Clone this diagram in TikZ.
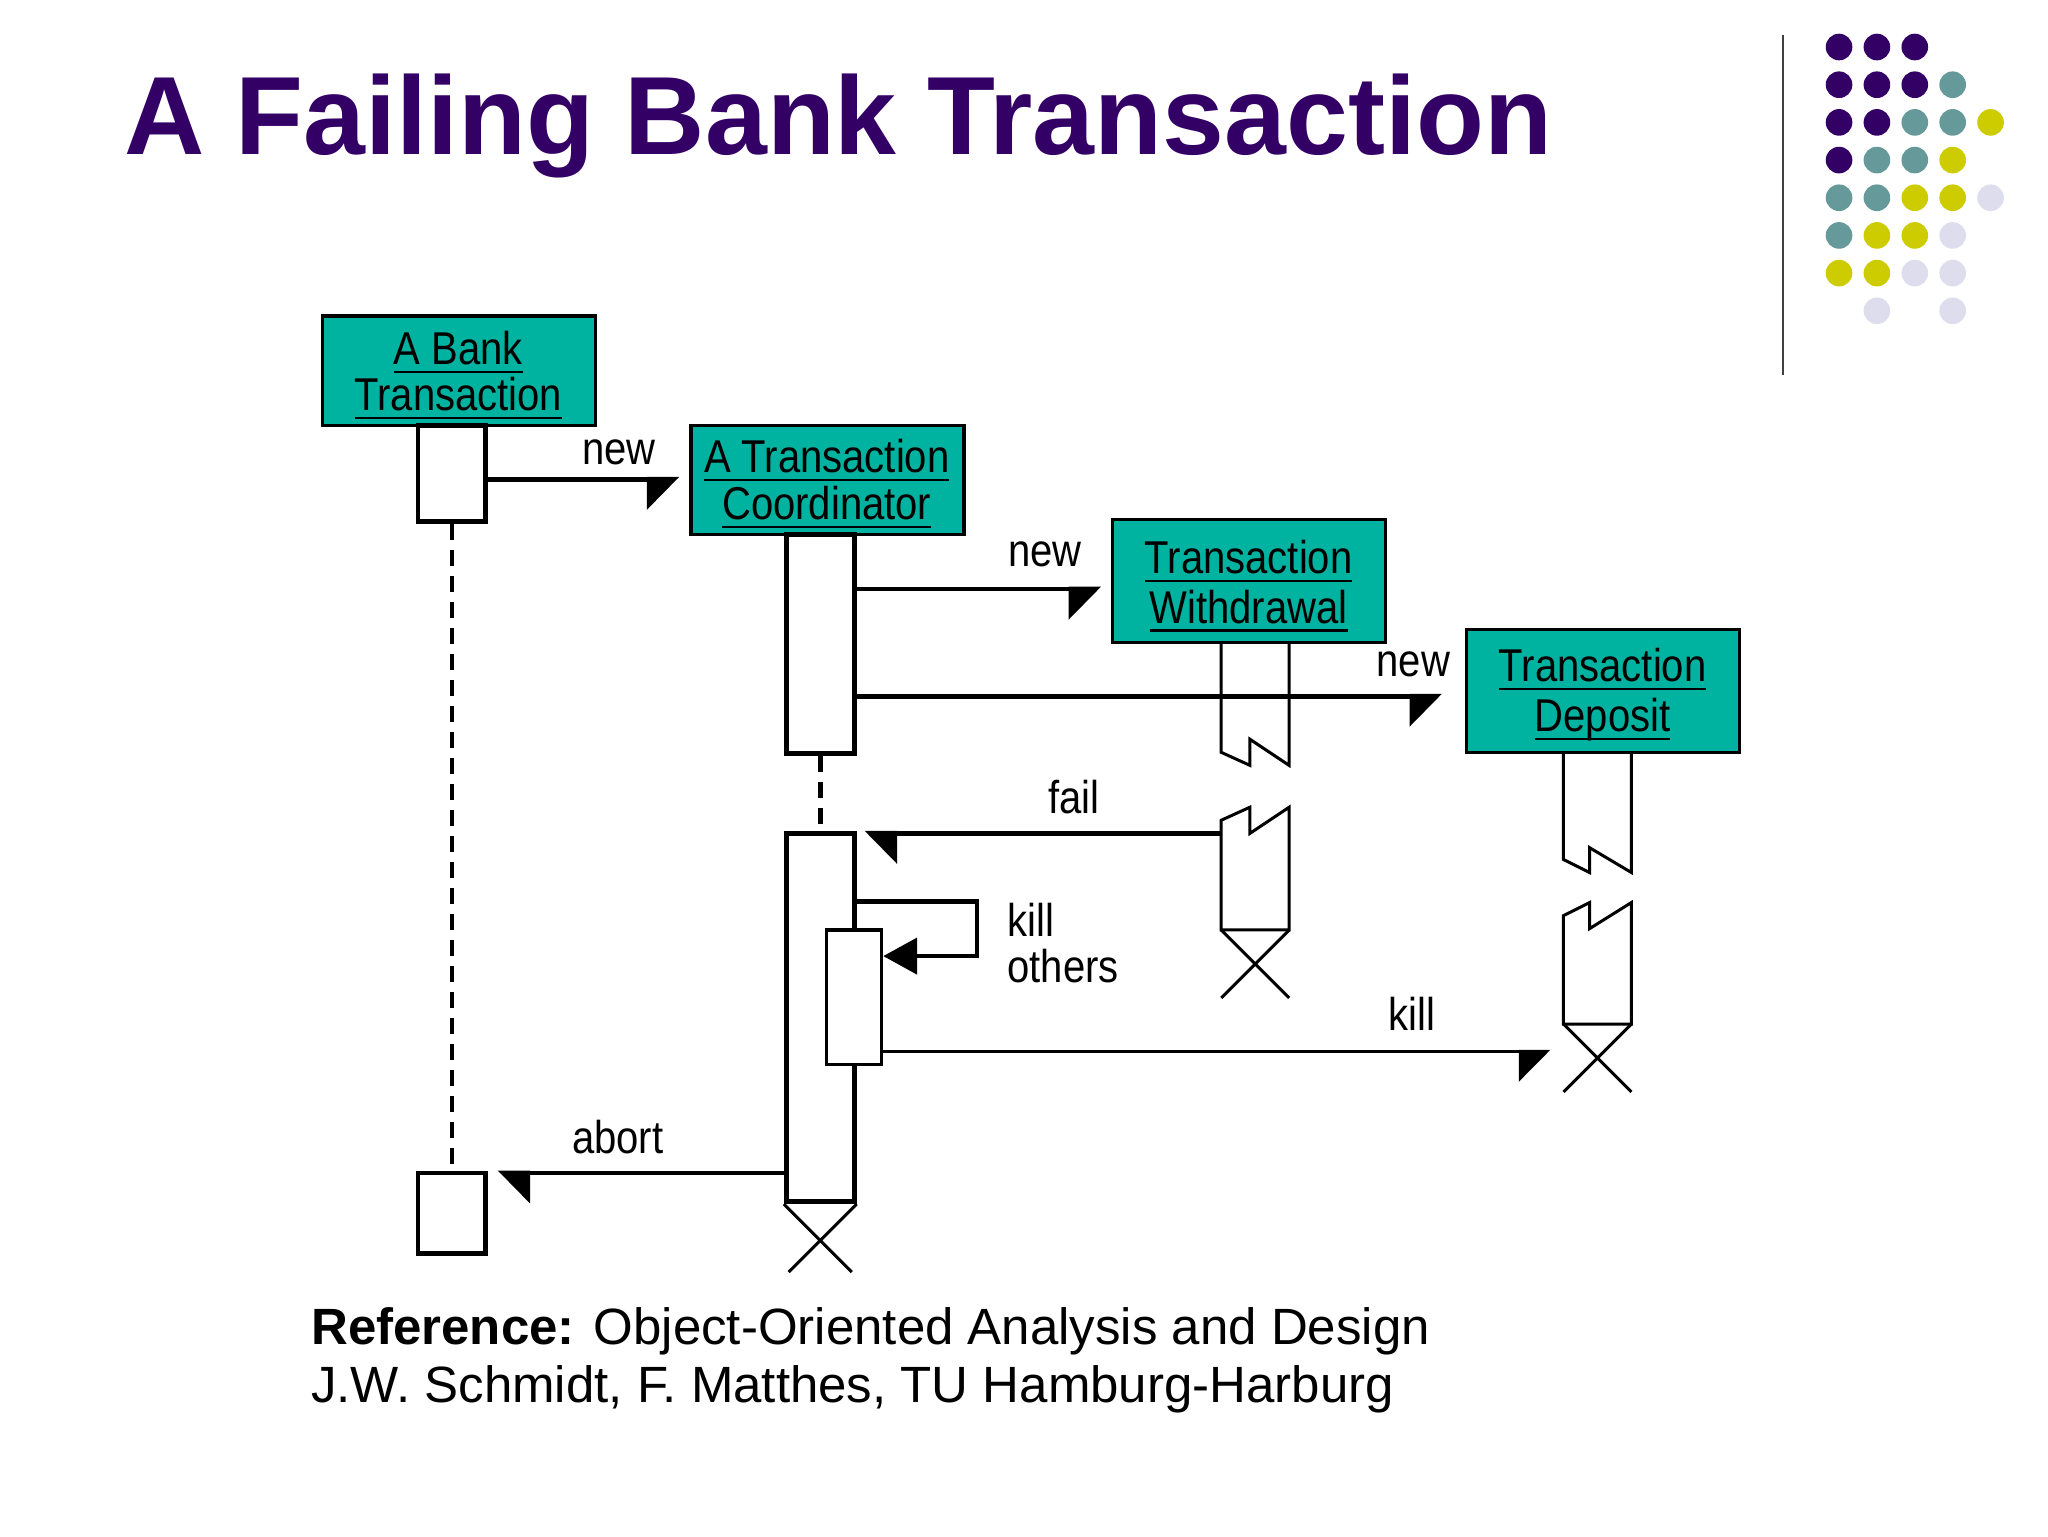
\documentclass[tikz,border=0pt]{standalone}
\usepackage{fontspec}
\setmainfont{Liberation Sans}
\newfontfamily\diagfont[FakeStretch=0.87]{Liberation Sans}
\usetikzlibrary{arrows.meta,fit}
\definecolor{titlepurple}{RGB}{51,0,102}
\definecolor{dotP}{RGB}{51,0,102}
\definecolor{dotT}{RGB}{102,153,153}
\definecolor{dotY}{RGB}{204,204,0}
\definecolor{dotL}{RGB}{221,221,238}
\definecolor{boxteal}{RGB}{0,178,160}
\newcommand\myul[1]{\setbox0\hbox{#1}\rlap{\rule[-4.3pt]{\wd0}{1.1pt}}\box0}
\begin{document}
\begin{tikzpicture}[x=0.65306pt,y=-0.65306pt,
  objbox/.style={draw=black, line width=1.6pt, fill=boxteal, inner sep=0pt},
  objtext/.style={inner sep=0pt, align=center,
    font=\diagfont\fontsize{23}{23.5}\selectfont},
  act/.style={draw=black, line width=2.4pt, fill=white, inner sep=0pt},
  nested/.style={draw=black, line width=1.6pt, fill=white, inner sep=0pt},
  msg/.style={line width=2.4pt, line join=miter},
  killmsg/.style={line width=1.6pt},
  halfR/.style={-{Triangle[harpoon,swap,length=15pt,width=30pt]}},
  halfL/.style={-{Triangle[harpoon,length=15pt,width=30pt]}},
  lbl/.style={font=\diagfont\fontsize{23}{23.5}\selectfont, anchor=base, inner sep=0pt},
  life/.style={line width=2.4pt, dash pattern=on 8pt off 5pt},
  xmark/.style={line width=1.5pt},
  brk/.style={line width=1.5pt, line join=miter},
]
\useasboundingbox (0,0) rectangle (1568,1176);
\fill[white] (0,0) rectangle (1568,1176);

% title
\node[anchor=base west, inner sep=0pt, text=titlepurple,
  font=\bfseries\fontsize{55.6}{60}\selectfont] (title) at (95,118) {A Failing Bank Transaction};

% separator and dots
\draw[line width=1.2pt, black!75] (1365,27) -- (1365,287);
\foreach \c/\r/\col in {0/0/dotP,1/0/dotP,2/0/dotP,
  0/1/dotP,1/1/dotP,2/1/dotP,3/1/dotT,
  0/2/dotP,1/2/dotP,2/2/dotT,3/2/dotT,4/2/dotY,
  0/3/dotP,1/3/dotT,2/3/dotT,3/3/dotY,
  0/4/dotT,1/4/dotT,2/4/dotY,3/4/dotY,4/4/dotL,
  0/5/dotT,1/5/dotY,2/5/dotY,3/5/dotL,
  0/6/dotY,1/6/dotY,2/6/dotL,3/6/dotL,
  1/7/dotL,3/7/dotL}
  \fill[\col] (1408+29*\c, 36+28.85*\r) circle[radius=6.66pt];

% objects
\node[objbox, fit={(247,242) (456,326)}] (bank) {};
\node[objtext, anchor=base] (bankt1) at (351,279) {\myul{A Bank}};
\node[objtext, anchor=base] (bankt2) at (351,314) {\myul{Transaction}};
\node[objbox, fit={(529,326) (738,409)}] (coord) {};
\node[objtext, anchor=base] (coordt1) at (633,362) {\myul{A Transaction}};
\node[objtext, anchor=base] (coordt2) at (633,398) {\myul{Coordinator}};
\node[objbox, fit={(852,398) (1061,492)}] (wd) {};
\node[objtext, anchor=base] (wdt1) at (956,439) {\myul{Transaction}};
\node[objtext, anchor=base] (wdt2) at (956,477) {\myul{Withdrawal}};
\node[objbox, fit={(1123,482) (1332,576)}] (dep) {};
\node[objtext, anchor=base] (dept1) at (1227,522) {\myul{Transaction}};
\node[objtext, anchor=base] (dept2) at (1227,560) {\myul{Deposit}};

% activations
\node[act, fit={(320,326) (372,399)}] (act1) {};
\node[act, fit={(320,898) (372,960)}] (act1b) {};
\node[act, fit={(602,409) (654,577)}] (act2) {};
\node[act, fit={(602,638) (654,920)}] (act3) {};
\node[nested, fit={(633,712) (675,815)}] (act4) {};

% lifelines
\draw[life] (act1.south) -- (act1b.north);
\draw[life] (act2.south) -- (act3.north);
\draw[xmark] (act3.south west) -- ++(52,52) (act3.south east) -- ++(-52,52);

% withdrawal broken lifeline
\draw[brk] (935,492) -- (935,576) -- (957,586) -- (957,566) -- (987,586) -- (987,492);
\draw[brk] (935,712) -- (935,628) -- (957,618) -- (957,638) -- (987,618) -- (987,712) -- cycle;
\draw[xmark] (935,712) -- (987,764) (987,712) -- (935,764);
\coordinate (wdl) at (935,638);

% deposit broken lifeline
\draw[brk] (1197,576) -- (1197,658) -- (1217,668) -- (1217,649) -- (1249,668) -- (1249,576);
\draw[brk] (1197,784) -- (1197,701) -- (1217,691) -- (1217,711) -- (1249,691) -- (1249,784) -- cycle;
\draw[xmark] (1197,784) -- (1249,836) (1249,784) -- (1197,836);

% messages
\coordinate (n1e) at (520,367);
\draw[msg,halfR] (act1.east |- n1e) -- (n1e);
\node[lbl] (lnew1) at (474,356) {new};

\coordinate (n2e) at (843,451);
\draw[msg,halfR] (act2.east |- n2e) -- (n2e);
\node[lbl] (lnew2) at (800,434) {new};

\coordinate (n3e) at (1104,533);
\draw[msg,halfR] (act2.east |- n3e) -- (n3e);
\node[lbl] (lnew3) at (1082,518) {new};

\coordinate (fe) at (662,638);
\draw[msg,halfL] (wdl) -- (fe);
\node[lbl] (lfail) at (822,623) {fail};

\coordinate (ko1) at (748,690);
\coordinate (ko2) at (748,732);
\draw[msg, -{Triangle[length=17pt,width=18pt]}] (act3.east |- ko1) -- (ko1) -- (ko2) -- (act4.east |- ko2);
\node[lbl, anchor=base west] (lkill1) at (771,717) {kill};
\node[lbl, anchor=base west] (lkill2) at (771,752) {others};

\coordinate (ke) at (1187,805);
\draw[killmsg,halfR] (act4.east |- ke) -- (ke);
\node[lbl] (lkill) at (1081,789) {kill};

\coordinate (ae) at (381,898);
\draw[msg,halfL] (act3.west |- ae) -- (ae);
\node[lbl] (labort) at (473,883) {abort};

% reference
\node[anchor=base west, inner sep=0pt, font=\fontsize{25.5}{30}\selectfont] (ref1) at (238,1029)
  {\textbf{Reference:} Object-Oriented Analysis and Design};
\node[anchor=base west, inner sep=0pt, font=\fontsize{25.5}{30}\selectfont] (ref2) at (238,1074)
  {J.W. Schmidt, F. Matthes, TU Hamburg-Harburg};
\end{tikzpicture}
\end{document}
